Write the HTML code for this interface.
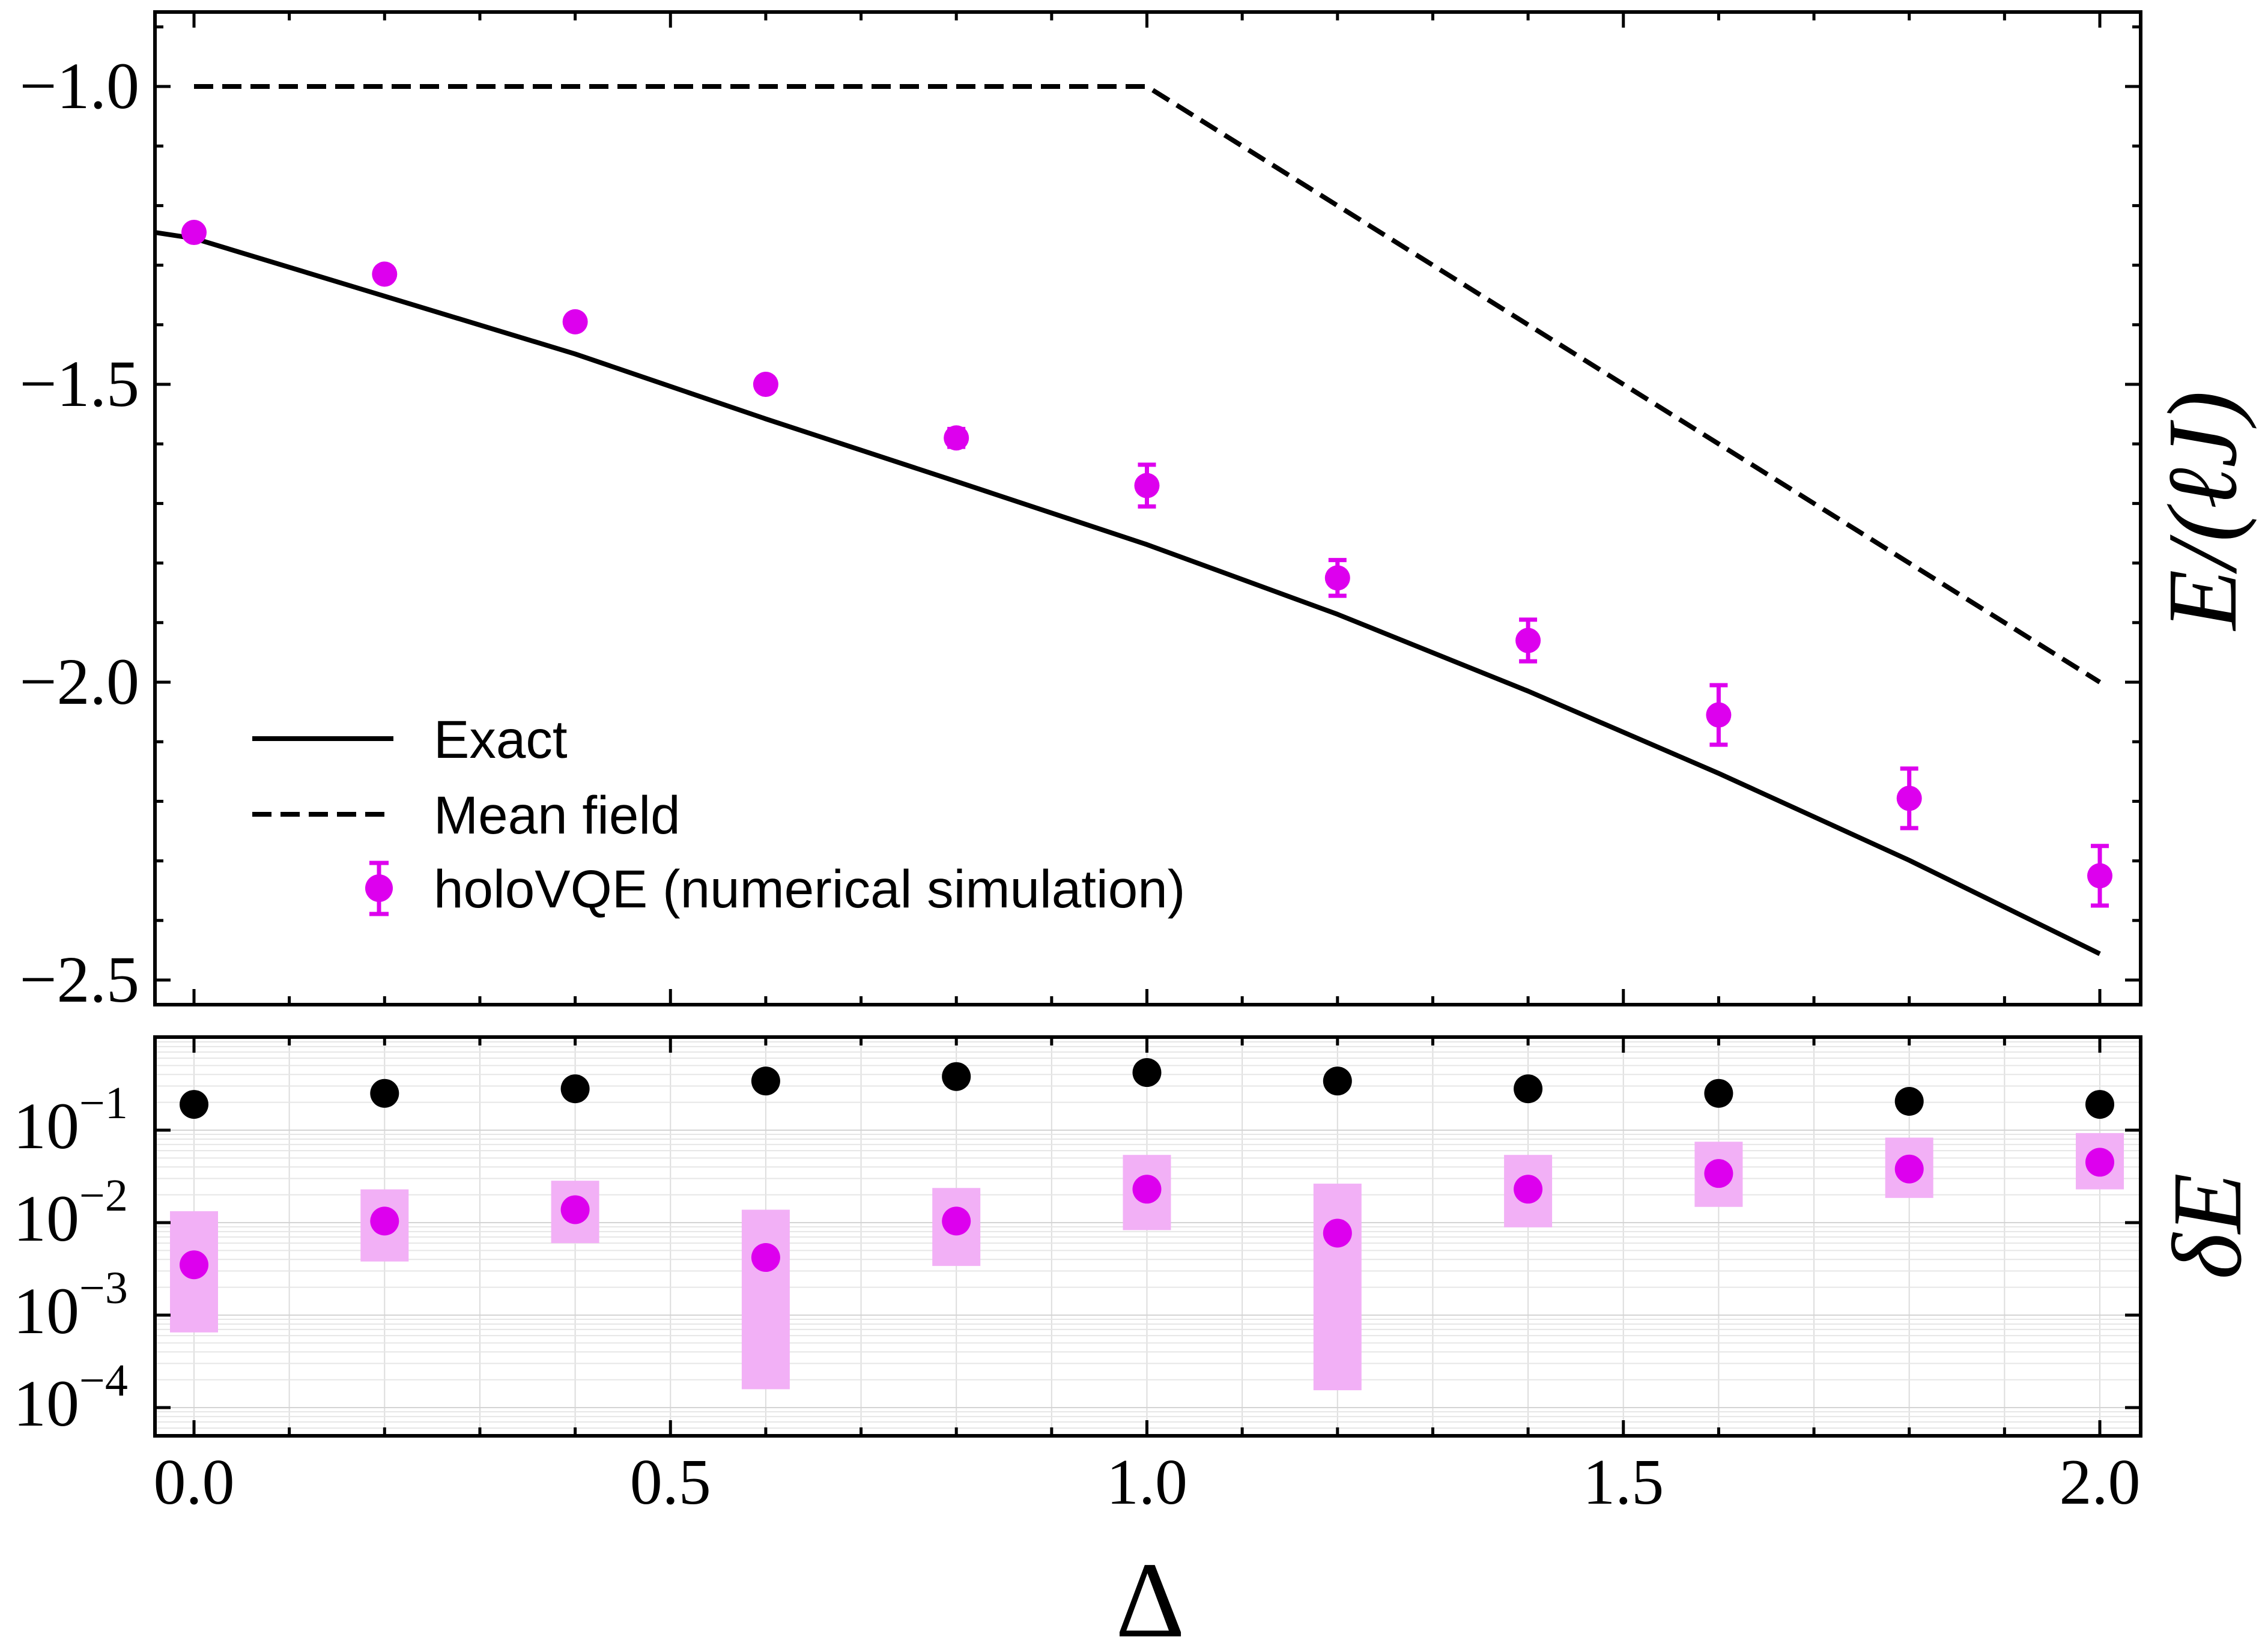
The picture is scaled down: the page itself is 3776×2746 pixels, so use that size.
<!DOCTYPE html>
<html><head><meta charset="utf-8"><style>
html,body{margin:0;padding:0;background:#fff;}
svg{display:block;}
</style></head><body>
<svg id="chart" xmlns="http://www.w3.org/2000/svg" width="3776" height="2746" viewBox="0 0 3776 2746">
<rect x="0" y="0" width="3776" height="2746" fill="#fff"/>
<g id="grid"></g>
<g id="marks"></g>
<g id="axes"></g>
<text x="0" y="0" transform="translate(3722,850) rotate(-90)" text-anchor="middle" font-family="Liberation Serif, serif" font-style="italic" font-size="165">E/(ℓJ)</text>
<text x="0" y="0" transform="translate(3730,2042) rotate(-90)" text-anchor="middle" font-family="Liberation Serif, serif" font-style="italic" font-size="165">δE</text>
<text x="1915" y="2725" text-anchor="middle" font-family="Liberation Serif, serif" font-size="180">Δ</text>
<g font-family="Liberation Sans, sans-serif" font-size="89">
<line x1="420" y1="1230" x2="655" y2="1230" stroke="#000" stroke-width="8"/>
<text x="722" y="1262">Exact</text>
<line x1="420" y1="1356" x2="655" y2="1356" stroke="#000" stroke-width="8" stroke-dasharray="32,15"/>
<text x="722" y="1388">Mean field</text>
<g>
<line x1="631" y1="1437" x2="631" y2="1522" stroke="#dd00ee" stroke-width="7"/>
<line x1="615" y1="1437" x2="647" y2="1437" stroke="#dd00ee" stroke-width="7"/>
<line x1="615" y1="1522" x2="647" y2="1522" stroke="#dd00ee" stroke-width="7"/>
<circle cx="631" cy="1479" r="23" fill="#dd00ee"/>
</g>
<text x="722" y="1511">holoVQE (numerical simulation)</text>
</g>
</svg>
<script>
// ---- data ----
const deltas = [0.0,0.2,0.4,0.6,0.8,1.0,1.2,1.4,1.6,1.8,2.0];
const exactE = [-1.255,-1.352,-1.449,-1.558,-1.663,-1.769,-1.886,-2.015,-2.153,-2.299,-2.456];
const meanFieldX = [0.0,1.0,2.0];
const meanFieldE = [-1.0,-1.0,-2.0];
const vqeE = [-1.245,-1.315,-1.395,-1.50,-1.59,-1.67,-1.825,-1.93,-2.055,-2.195,-2.325];
const vqeErr = [0.005,0.006,0.008,0.01,0.015,0.035,0.03,0.035,0.05,0.05,0.05];
const mfErr = [0.19,0.25,0.28,0.34,0.38,0.42,0.34,0.28,0.25,0.205,0.19];
const vqeDE = [0.0035,0.0104,0.0138,0.0042,0.0104,0.023,0.0077,0.023,0.034,0.038,0.045];
const vqeDEhi = [0.0133,0.0229,0.0284,0.0138,0.0237,0.054,0.0264,0.054,0.075,0.083,0.093];
const vqeDElo = [0.00065,0.0038,0.006,0.000158,0.0034,0.0083,0.000154,0.0089,0.0148,0.0185,0.0229];
const xTicks = [0.0,0.5,1.0,1.5,2.0];
const xTickLabels = ["0.0","0.5","1.0","1.5","2.0"];
const yTopTicks = [-1.0,-1.5,-2.0,-2.5];
const yTopLabels = ["\u22121.0","\u22121.5","\u22122.0","\u22122.5"];
const yBotExps = [-1,-2,-3,-4];

// ---- layout ----
const NS="http://www.w3.org/2000/svg";
const L=258,R=3564,T1=20,B1=1673,T2=1727,B2=2391;
const X=v=>323+v*1586.5;
const Y1=v=>144+(-1-v)*992;
const Y2=v=>1882+(-1-Math.log10(v))*154;
function mk(tag,attrs,parent){const e=document.createElementNS(NS,tag);for(const k in attrs)e.setAttribute(k,attrs[k]);parent.appendChild(e);return e;}
const grid=document.getElementById('grid'),marks=document.getElementById('marks'),axes=document.getElementById('axes');

for(let i=0;i<=20;i++){const x=X(i*0.1);if(x<L||x>R)continue;
 const g=mk('line',{x1:x,x2:x,y1:T2,y2:B2,stroke:'#ddd','stroke-width':2},grid);
 
 }
for(let e=-5;e<=0;e++){for(let m=1;m<10;m++){const y=Y2(m*Math.pow(10,e));if(y<T2||y>B2)continue;
 const g=mk('line',{x1:L,x2:R,y1:y,y2:y,stroke:m==1?'#d4d4d4':'#e6e6e6','stroke-width':2},grid);
 
 }}

let d='M'+L+','+Y1(exactE[0]+0.01);
deltas.forEach((v,i)=>{d+='L'+X(v)+','+Y1(exactE[i]);});
const ex=mk('path',{d:d,fill:'none',stroke:'#000','stroke-width':8,'stroke-linejoin':'round'},marks);


let dm='';meanFieldX.forEach((v,i)=>{dm+=(i?'L':'M')+X(v)+','+Y1(meanFieldE[i]);});
const mf=mk('path',{d:dm,fill:'none',stroke:'#000','stroke-width':8,'stroke-dasharray':'32,15'},marks);


deltas.forEach((v,i)=>{const x=X(v);
 const g=mk('g',{},marks);
 
 
 const y1=Y1(vqeE[i]+vqeErr[i]),y2=Y1(vqeE[i]-vqeErr[i]);
 if(vqeErr[i]>0.01){mk('line',{x1:x,x2:x,y1:y1,y2:y2,stroke:'#dd00ee','stroke-width':7},g);
  mk('line',{x1:x-15,x2:x+15,y1:y1,y2:y1,stroke:'#dd00ee','stroke-width':7},g);
  mk('line',{x1:x-15,x2:x+15,y1:y2,y2:y2,stroke:'#dd00ee','stroke-width':7},g);}
 mk('circle',{cx:x,cy:Y1(vqeE[i]),r:21,fill:'#dd00ee'},g);});
deltas.forEach((v,i)=>{const x=X(v);
 const b=mk('rect',{x:x-40,y:Y2(vqeDEhi[i]),width:80,height:Y2(vqeDElo[i])-Y2(vqeDEhi[i]),fill:'#f2b0f6'},marks);
 
 
 const c=mk('circle',{cx:x,cy:Y2(vqeDE[i]),r:24,fill:'#dd00ee'},marks);
 
 
 const k=mk('circle',{cx:x,cy:Y2(mfErr[i]),r:24,fill:'#000'},marks);
 
 });

[[T1,B1],[T2,B2]].forEach(([t,b],pi)=>{
 const f=mk('rect',{x:L,y:t,width:R-L,height:b-t,fill:'none',stroke:'#000','stroke-width':6},axes);
 
 
 for(let i=0;i<=20;i++){const x=X(i*0.1);const len=i%5==0?26:14;
  mk('line',{x1:x,x2:x,y1:b,y2:b-len,stroke:'#000','stroke-width':5},axes);
  mk('line',{x1:x,x2:x,y1:t,y2:t+len,stroke:'#000','stroke-width':5},axes);}
});
for(let i=0;i<=16;i++){const v=-1.0-(i-1)*0.1;const y=Y1(v);if(y<T1||y>B1)continue;const len=(i-1)%5==0?26:14;
 mk('line',{x1:L,x2:L+len,y1:y,y2:y,stroke:'#000','stroke-width':5},axes);
 mk('line',{x1:R,x2:R-len,y1:y,y2:y,stroke:'#000','stroke-width':5},axes);}
yBotExps.forEach(e=>{const y=Y2(Math.pow(10,e));
 mk('line',{x1:L,x2:L+26,y1:y,y2:y,stroke:'#000','stroke-width':5},axes);
 mk('line',{x1:R,x2:R-26,y1:y,y2:y,stroke:'#000','stroke-width':5},axes);});
xTicks.forEach((v,i)=>{const t=mk('text',{x:X(v),y:2504,'text-anchor':'middle','font-family':'Liberation Serif, serif','font-size':108},axes);
 t.textContent=xTickLabels[i];
 
 });
yTopTicks.forEach((v,i)=>{const t=mk('text',{x:232,y:Y1(v)+36,'text-anchor':'end','font-family':'Liberation Serif, serif','font-size':110},axes);
 t.textContent=yTopLabels[i];
 
 });
yBotExps.forEach(e=>{const t=mk('text',{x:22,y:Y2(Math.pow(10,e))+30,'font-family':'Liberation Serif, serif','font-size':110},axes);
 
 
 t.appendChild(document.createTextNode('10'));
 const s=document.createElementNS(NS,'tspan');s.setAttribute('dy','-50');s.setAttribute('font-size','76');
 s.textContent='\u2212'+(-e);t.appendChild(s);});
</script>
</body></html>
